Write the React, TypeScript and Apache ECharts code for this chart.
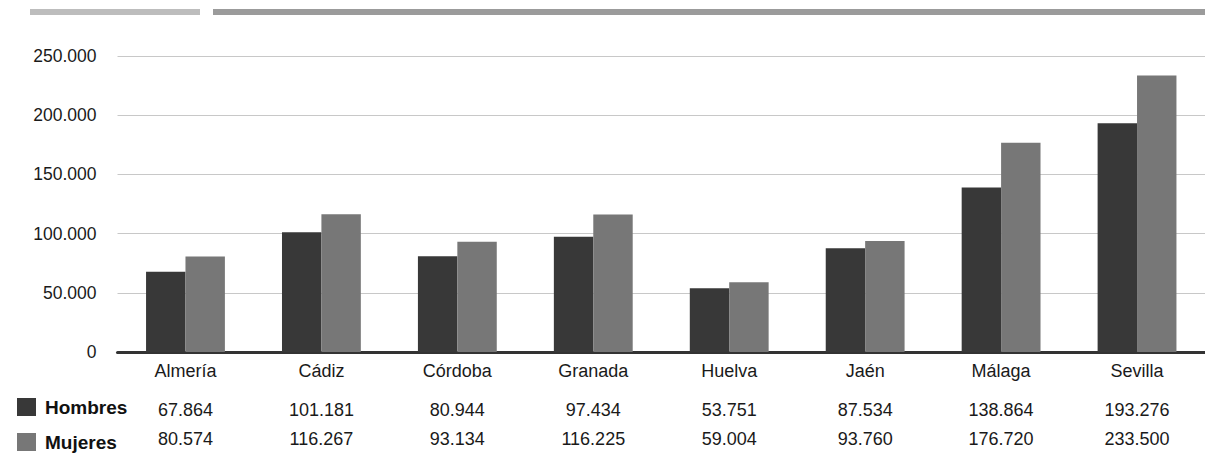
import React, { useEffect, useRef } from "react";
import * as echarts from "echarts";

const provincias = ["Almería", "Cádiz", "Córdoba", "Granada", "Huelva", "Jaén", "Málaga", "Sevilla"];
const hombres = [67864, 101181, 80944, 97434, 53751, 87534, 138864, 193276];
const mujeres = [80574, 116267, 93134, 116225, 59004, 93760, 176720, 233500];
const seriesNames = ["Hombres", "Mujeres"];
const seriesColors = ["#383838", "#777777"];

const FONT = "'Liberation Sans', Arial, Helvetica, sans-serif";

function fmt(v: number): string {
  const s = Math.round(v).toString();
  return s.replace(/\B(?=(\d{3})+(?!\d))/g, ".");
}

export default function App() {
  const ref = useRef<HTMLDivElement>(null);
  useEffect(() => {
    if (!ref.current) return;
    const chart = echarts.init(ref.current, null, { renderer: "svg" });
    const rowAxis = (vals: number[], offset: number) => ({
      type: "category",
      data: provincias,
      position: "bottom",
      offset,
      axisLine: { show: false },
      axisTick: { show: false },
      splitLine: { show: false },
      axisLabel: {
        interval: 0,
        margin: 10,
        color: "#1a1a1a",
        fontSize: 18,
        fontFamily: FONT,
        formatter: (_v: string, i: number) => fmt(vals[i]),
      },
    });
    chart.setOption({
      animation: false,
      textStyle: { fontFamily: FONT },
      grid: { left: 117.5, right: -8.5, top: 56, bottom: 101, containLabel: false },
      legend: {
        orient: "vertical",
        left: 17,
        top: 397.5,
        height: 60,
        padding: 0,
        itemWidth: 19,
        itemHeight: 18,
        itemGap: 16,
        icon: "rect",
        selectedMode: false,
        data: seriesNames,
        textStyle: {
          fontSize: 19,
          fontWeight: "bold",
          color: "#111",
          fontFamily: FONT,
          lineHeight: 18,
          padding: [0, 0, 0, 4],
        },
      },
      xAxis: [
        {
          type: "category",
          data: provincias,
          axisLine: { show: true, lineStyle: { color: "#333", width: 3 } },
          axisTick: { show: false },
          axisLabel: { interval: 0, margin: 10, color: "#1a1a1a", fontSize: 18, fontFamily: FONT },
        },
        rowAxis(hombres, 39),
        rowAxis(mujeres, 68),
      ],
      yAxis: {
        type: "value",
        min: 0,
        max: 250000,
        interval: 50000,
        axisLine: { show: false },
        axisTick: { show: false },
        splitLine: { lineStyle: { color: "#c8c8c8", width: 1 } },
        axisLabel: {
          margin: 21,
          color: "#1a1a1a",
          fontSize: 17.5,
          fontFamily: FONT,
          formatter: (v: number) => fmt(v),
        },
      },
      series: [
        {
          name: seriesNames[0],
          type: "bar",
          data: hombres,
          itemStyle: { color: seriesColors[0] },
          barGap: "0%",
          barCategoryGap: "42%",
        },
        {
          name: seriesNames[1],
          type: "bar",
          data: mujeres,
          itemStyle: { color: seriesColors[1] },
          barGap: "0%",
          barCategoryGap: "42%",
        },
      ],
      graphic: [
        { type: "rect", shape: { x: 30, y: 9, width: 170, height: 6 }, style: { fill: "#bdbdbd" } },
        { type: "rect", shape: { x: 213, y: 9, width: 992, height: 6 }, style: { fill: "#9b9b9b" } },
      ],
    });
    return () => chart.dispose();
  }, []);
  return (
    <div
      ref={ref}
      style={{ position: "absolute", left: 0, top: 0, width: "1205px", height: "453px" }}
    />
  );
}
